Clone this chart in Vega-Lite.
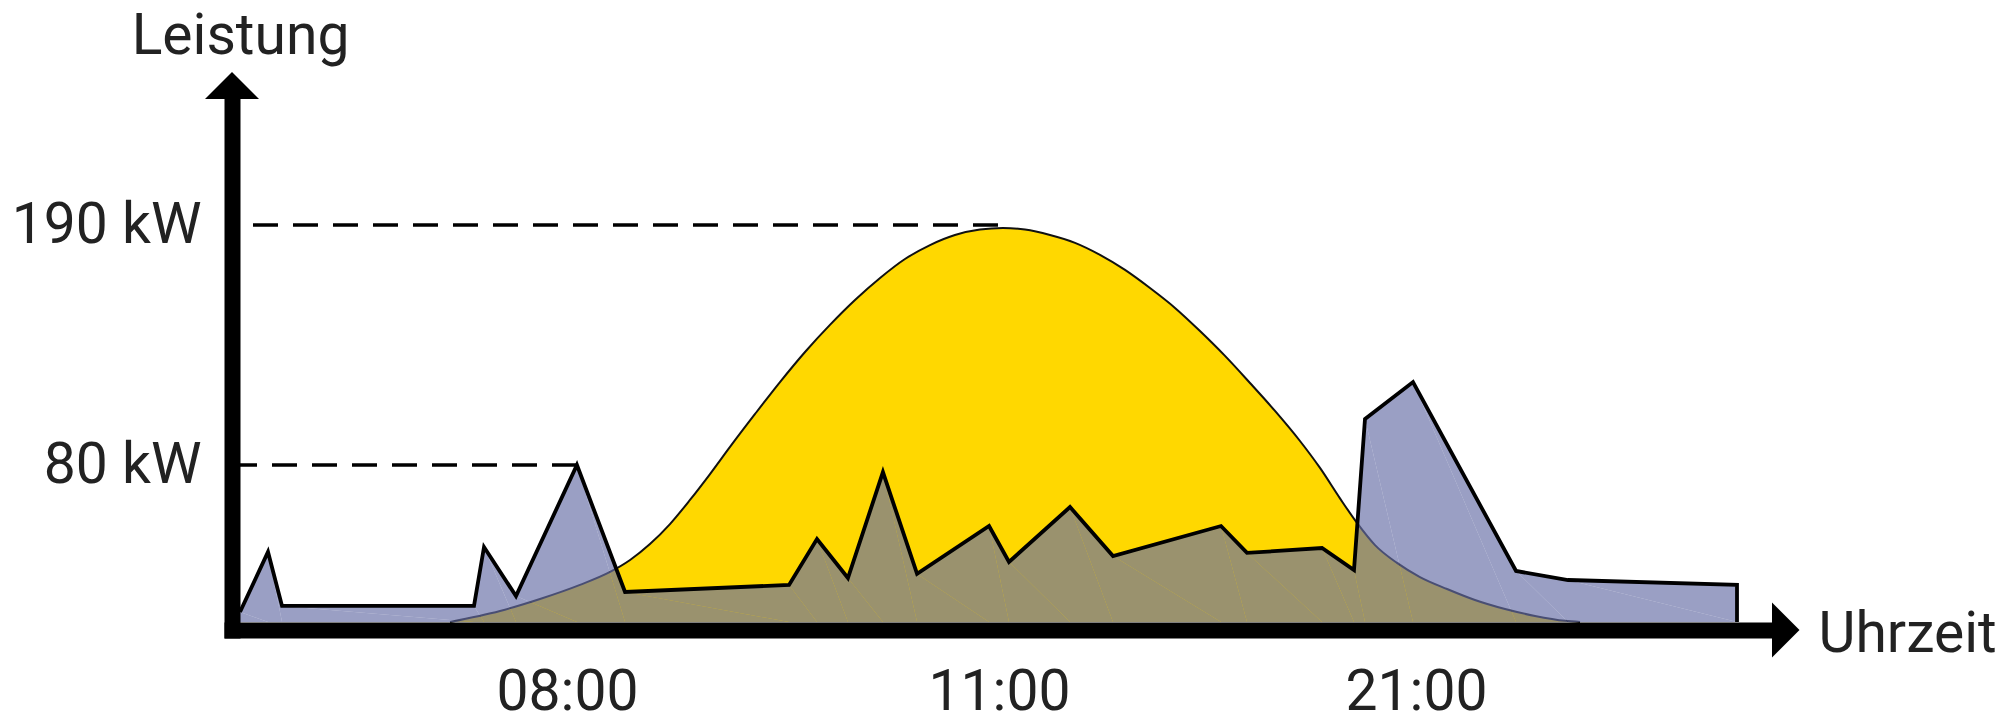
{
  "$schema": "https://vega.github.io/schema/vega-lite/v6.json",
  "width": 1540,
  "height": 531,
  "autosize": "none",
  "padding": {"left": 232, "top": 99, "right": 237, "bottom": 91},
  "background": "white",
  "config": {"view": {"stroke": null}, "font": "Roboto"},
  "datasets": {
    "load": [
      {"h": 0, "kW": 5.1, "i": 1}, {"h": 0.685, "kW": 35.7, "i": 2}, {"h": 1.028, "kW": 8.2, "i": 3},
      {"h": 5.725, "kW": 8.2, "i": 4}, {"h": 5.97, "kW": 38.2, "i": 5}, {"h": 6.752, "kW": 13.2, "i": 6},
      {"h": 8.069, "kW": 80, "i": 7}, {"h": 8.403, "kW": 15.3, "i": 8}, {"h": 9.542, "kW": 18.9, "i": 9},
      {"h": 9.736, "kW": 42.3, "i": 10}, {"h": 9.951, "kW": 22.4, "i": 11}, {"h": 10.194, "kW": 76.4, "i": 12},
      {"h": 10.431, "kW": 24.5, "i": 13}, {"h": 10.931, "kW": 48.9, "i": 14}, {"h": 11.24, "kW": 30.6, "i": 15},
      {"h": 12.703, "kW": 58.6, "i": 16}, {"h": 13.734, "kW": 33.6, "i": 17}, {"h": 16.324, "kW": 48.9, "i": 18},
      {"h": 16.947, "kW": 35.2, "i": 19}, {"h": 18.746, "kW": 37.7, "i": 20}, {"h": 19.513, "kW": 26.5, "i": 21},
      {"h": 19.777, "kW": 101.1, "i": 22}, {"h": 20.928, "kW": 118.0, "i": 23}, {"h": 21.935, "kW": 26.0, "i": 24},
      {"h": 22.421, "kW": 21.4, "i": 25}, {"h": 24.0, "kW": 18.9, "i": 26}, {"h": 24.0, "kW": 0, "i": 27}
    ],
    "solar": [
      {"h": 5.138, "kW": 0}, {"h": 6.361, "kW": 5.6}, {"h": 7.339, "kW": 11.7}, {"h": 8.09, "kW": 18.9},
      {"h": 8.299, "kW": 25.5}, {"h": 8.438, "kW": 31.6}, {"h": 8.576, "kW": 39.7}, {"h": 8.715, "kW": 49.9},
      {"h": 8.854, "kW": 62.2}, {"h": 8.993, "kW": 75.4}, {"h": 9.132, "kW": 88.3}, {"h": 9.306, "kW": 103.4},
      {"h": 9.479, "kW": 118.0}, {"h": 9.653, "kW": 131.8}, {"h": 9.826, "kW": 144.2}, {"h": 10.0, "kW": 155.6},
      {"h": 10.174, "kW": 165.7}, {"h": 10.347, "kW": 174.4}, {"h": 10.521, "kW": 180.8}, {"h": 10.694, "kW": 185.4},
      {"h": 10.868, "kW": 187.9}, {"h": 11.096, "kW": 188.6}, {"h": 11.624, "kW": 187.9}, {"h": 12.223, "kW": 185.4},
      {"h": 12.823, "kW": 181.8}, {"h": 13.422, "kW": 176.3}, {"h": 14.022, "kW": 169.4}, {"h": 14.621, "kW": 161.1},
      {"h": 15.221, "kW": 152.0}, {"h": 15.82, "kW": 141.4}, {"h": 16.42, "kW": 130.0}, {"h": 17.019, "kW": 117.6},
      {"h": 17.619, "kW": 104.8}, {"h": 18.218, "kW": 91.0}, {"h": 18.698, "kW": 78.5}, {"h": 19.177, "kW": 63.0},
      {"h": 19.585, "kW": 50.5}, {"h": 20.017, "kW": 39.2}, {"h": 20.544, "kW": 30.1}, {"h": 21.037, "kW": 22.9},
      {"h": 21.29, "kW": 16.8}, {"h": 21.551, "kW": 11.2}, {"h": 21.832, "kW": 6.6}, {"h": 22.112, "kW": 3.1},
      {"h": 22.393, "kW": 0.6}, {"h": 22.533, "kW": 0}
    ],
    "refs": [
      {"kW": 190, "h0": 0.318, "h1": 11.096},
      {"kW": 80, "h0": -0.2, "h1": 8.083}
    ],
    "xtip": [{"h": 24.33, "kW": -4.08}],
    "ytip": [{"h": -0.2, "kW": 247.75}]
  },
  "encoding": {
    "x": {
      "field": "h", "type": "quantitative",
      "scale": {"domain": [-0.2, 0, 8, 11, 21, 24, 24.33], "range": [0, 8, 335, 767, 1184, 1505, 1540], "nice": false, "zero": false},
      "axis": {
        "title": "Uhrzeit", "values": [8, 11, 21],
        "labelExpr": "(datum.value < 10 ? '0' : '') + datum.value + ':00'",
        "labelFontSize": 57, "labelColor": "#222", "labelPadding": 34, "labelFont": "Roboto", "labelLimit": 0,
        "ticks": false, "tickSize": 0, "grid": false,
        "domainColor": "black", "domainWidth": 16, "domainCap": "square",
        "titleFontSize": 57, "titleFontWeight": "normal", "titleColor": "#222", "titleFont": "Roboto",
        "titleX": 1586, "titleY": 21, "titleAlign": "left", "titleBaseline": "alphabetic", "titleAngle": 0,
        "zindex": 1, "labelOverlap": false, "labelFlush": false
      }
    },
    "y": {
      "field": "kW", "type": "quantitative",
      "scale": {"domain": [-4.08, 0, 80, 190, 247.75], "range": [531, 523, 366, 126, 0], "nice": false, "zero": false},
      "axis": {
        "title": "Leistung", "values": [80, 190],
        "labelExpr": "datum.value + ' kW'",
        "labelFontSize": 57, "labelColor": "#222", "labelPadding": 31, "labelFont": "Roboto", "labelLimit": 0,
        "ticks": false, "tickSize": 0, "grid": false,
        "domainColor": "black", "domainWidth": 16, "domainCap": "square",
        "titleFontSize": 57, "titleFontWeight": "normal", "titleColor": "#222", "titleFont": "Roboto",
        "titleX": 8, "titleY": -46, "titleAlign": "center", "titleBaseline": "alphabetic", "titleAngle": 0,
        "zindex": 1, "labelOverlap": false, "labelFlush": false
      }
    }
  },
  "layer": [
    {
      "data": {"name": "solar"},
      "mark": {"type": "area", "color": "#ffd800", "interpolate": "monotone"}
    },
    {
      "data": {"name": "solar"},
      "mark": {"type": "line", "color": "#111", "strokeWidth": 2, "interpolate": "monotone"}
    },
    {
      "data": {"name": "load"},
      "mark": {"type": "area", "color": "#676ea6", "opacity": 0.663},
      "encoding": {"order": {"field": "i", "type": "quantitative"}}
    },
    {
      "data": {"name": "load"},
      "mark": {"type": "line", "color": "#000", "strokeWidth": 3.8, "strokeJoin": "miter"},
      "encoding": {"order": {"field": "i", "type": "quantitative"}}
    },
    {
      "data": {"name": "refs"},
      "mark": {"type": "rule", "color": "#000", "strokeWidth": 3.5, "strokeDash": [25, 15]},
      "encoding": {
        "x": {"field": "h0", "type": "quantitative"},
        "x2": {"field": "h1"},
        "y": {"field": "kW", "type": "quantitative"}
      }
    },
    {
      "data": {"name": "xtip"},
      "mark": {"type": "point", "shape": "M0,-1L1,0L0,1Z", "size": 3025, "filled": true, "color": "black", "opacity": 1, "strokeWidth": 0}
    },
    {
      "data": {"name": "ytip"},
      "mark": {"type": "point", "shape": "M-1,0L1,0L0,-1Z", "size": 2916, "filled": true, "color": "black", "opacity": 1, "strokeWidth": 0}
    }
  ]
}
